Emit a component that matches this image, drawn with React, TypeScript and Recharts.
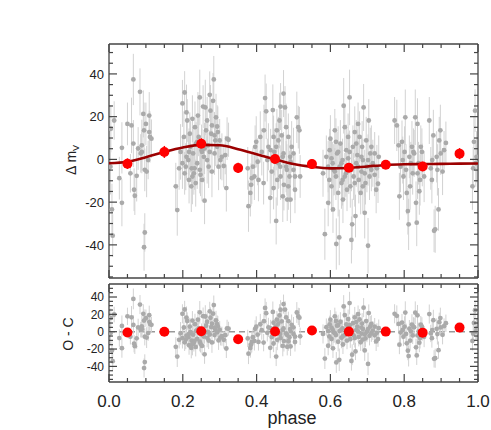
import React from 'react'
import { ComposedChart, Scatter, XAxis, YAxis, ErrorBar, ReferenceLine } from 'recharts'

// observed points: [phase, delta m_V, error]
const OBS: [number, number, number][] = [
  [0.005, 14.3, 11], [0.008, -23.4, 12], [0.01, -35.7, 10], [0.014, 18.2, 9], [0.004, -3.4, 13],
  [0.028, -8.8, 10], [0.035, -20.3, 11], [0.035, 5.4, 12], [0.05, 16.6, 10], [0.058, -6.5, 9],
  [0.061, 15.9, 13], [0.066, 37.4, 12], [0.066, 7.4, 11], [0.068, -14.2, 10], [0.07, -17, 9],
  [0.075, -7.7, 12], [0.079, 5.1, 10], [0.084, 31.6, 11], [0.086, 2.8, 9], [0.089, 6.6, 12],
  [0.089, 3.5, 10], [0.093, 21.3, 11], [0.095, 13.6, 13], [0.097, -4.9, 10], [0.097, -34.2, 9],
  [0.095, -41.1, 11], [0.1, 16.6, 10], [0.102, -5.7, 12], [0.106, -0.3, 9], [0.109, 20.5, 11],
  [0.109, 12.8, 10], [0.111, 10.5, 12], [0.115, 9.7, 9],

  [0.181, -12.6, 11], [0.185, -23.7, 12], [0.19, -4.2, 10], [0.194, 3.5, 13], [0.199, 26.2, 11],
  [0.203, 10.5, 12], [0.205, 31.3, 10], [0.208, -3.4, 11], [0.21, 22, 13], [0.212, 18.2, 10],
  [0.215, -0.3, 12], [0.217, -9.6, 11], [0.219, 12, 10], [0.221, 5.9, 12], [0.224, -4.2, 9],
  [0.226, 19, 11], [0.228, 2.8, 13], [0.23, -6.5, 10], [0.233, 15.1, 12], [0.235, -11.1, 11],
  [0.236, 7.4, 10], [0.239, -1.8, 12], [0.241, 20.5, 11], [0.243, 10.5, 9], [0.246, 29, 13],
  [0.248, -7.2, 10], [0.251, 4.3, 12], [0.252, 3.5, 11], [0.255, 24.7, 10], [0.257, 1.2, 12],
  [0.259, -19.3, 11], [0.261, 24.3, 13], [0.263, 13.6, 10], [0.266, 18.2, 11], [0.268, 6.6, 12],
  [0.27, -3.4, 10], [0.273, 30.2, 11], [0.275, 22.8, 12], [0.277, 12, 10], [0.279, 15.9, 11],
  [0.282, 27.4, 13], [0.284, 37.4, 11], [0.286, 2.8, 10], [0.288, 8.9, 12], [0.29, 19.7, 11],
  [0.293, 15.4, 10], [0.295, 12.8, 12], [0.297, -3.4, 11], [0.3, 8.9, 10], [0.302, -0.3, 9],
  [0.306, 1.2, 11], [0.311, -3.1, 10], [0.315, 2, 9], [0.32, 9.7, 10], [0.324, 9.2, 8],
  [0.318, -13.4, 11], [0.199, -1.8, 12], [0.205, -6.5, 10], [0.217, 3.5, 11], [0.226, -8, 13],
  [0.232, -4.2, 10], [0.239, 8.2, 12], [0.246, -4.9, 11], [0.252, -9.6, 10], [0.259, 5.1, 12],
  [0.266, -0.3, 11], [0.273, 3.5, 10], [0.279, -5.7, 12], [0.286, 11.2, 11], [0.293, 5.9, 10],
  [0.223, -12.6, 12], [0.21, 1.2, 11],

  [0.376, -4.2, 10], [0.378, -21.9, 12], [0.383, -15.7, 11], [0.385, -11.9, 10], [0.387, -8.8, 12],
  [0.39, -3.4, 9], [0.394, -8, 11], [0.396, 5.9, 10], [0.399, 8.2, 12], [0.403, -1.1, 11],
  [0.405, -9.6, 10], [0.41, 10.5, 12], [0.414, 3.5, 11], [0.419, -11.1, 10], [0.42, 13.6, 12],
  [0.423, 28.7, 11], [0.426, 22.5, 13], [0.429, -0.3, 10], [0.432, 5.9, 11], [0.437, -18, 12],
  [0.438, 4.3, 10], [0.441, -5.7, 11], [0.444, 23.1, 12], [0.446, 10.5, 10], [0.448, 3.5, 11],
  [0.45, -1.1, 12], [0.453, -28.8, 11], [0.455, 13.6, 10], [0.456, -9.6, 12], [0.459, 8.9, 11],
  [0.462, 18.2, 13], [0.464, -3.4, 10], [0.465, 24.7, 11], [0.468, 11.2, 12], [0.471, 1.2, 10],
  [0.473, 30.8, 11], [0.474, -11.9, 12], [0.477, 24.3, 10], [0.48, 15.1, 11], [0.482, -4.9, 12],
  [0.483, -18.8, 10], [0.486, 10.5, 11], [0.489, -8, 12], [0.491, 1.2, 10], [0.492, -18.8, 11],
  [0.495, 5.9, 12], [0.5, -4.9, 10], [0.504, -14.2, 11], [0.509, 19.7, 12], [0.513, 15.1, 10],
  [0.516, 13.6, 11], [0.518, -8, 10], [0.459, -1.8, 12], [0.465, -8, 11], [0.473, 2.8, 10],
  [0.48, -3.4, 12], [0.486, -12.6, 11], [0.492, -1.1, 10], [0.5, 2.8, 12], [0.453, 5.9, 11],
  [0.446, -13.4, 10], [0.471, -17.3, 12], [0.504, -8, 11],

  [0.58, -6.5, 11], [0.585, -35, 12], [0.589, 1.2, 10], [0.594, -20.3, 11], [0.597, -9.6, 12],
  [0.598, 4.3, 10], [0.6, 9.7, 11], [0.603, -12.6, 12], [0.606, -1.8, 10], [0.607, -23.4, 11],
  [0.609, -4.9, 12], [0.612, 13.6, 10], [0.615, -8, 11], [0.616, -39.6, 12], [0.618, 2.8, 10],
  [0.621, -15.7, 11], [0.624, -36.5, 13], [0.625, -3.4, 10], [0.627, 7.4, 11], [0.63, -11.1, 12],
  [0.633, -0.3, 10], [0.634, -18.8, 11], [0.636, 25.1, 13], [0.639, 15.1, 10], [0.642, -6.5, 11],
  [0.643, 4.3, 12], [0.645, -14.2, 10], [0.648, 10.5, 11], [0.65, -4.2, 12], [0.652, 29, 13],
  [0.654, -12.6, 10], [0.657, -37.7, 11], [0.659, -30.4, 12], [0.661, 5.9, 10], [0.663, -8, 11],
  [0.666, 12.8, 12], [0.668, -26.5, 10], [0.67, -1.8, 11], [0.673, 2, 12], [0.675, 16.6, 10],
  [0.677, -9.6, 11], [0.679, 10.5, 12], [0.682, -15.7, 10], [0.684, -5.7, 11], [0.686, 5.9, 12],
  [0.688, -0.3, 10], [0.69, 24.3, 11], [0.693, -25, 12], [0.695, -11.1, 10], [0.697, 8.9, 11],
  [0.699, -3.4, 12], [0.702, -40.4, 13], [0.704, 18.2, 10], [0.706, -8, 11], [0.708, 2.8, 12],
  [0.711, -4.9, 10], [0.715, -1.8, 11], [0.72, 2.8, 10], [0.724, -14.2, 11], [0.729, -11.4, 9],
  [0.731, 1.2, 10], [0.726, -4.2, 11], [0.594, -3.4, 12], [0.603, 0.5, 10], [0.612, -5.7, 11],
  [0.621, 3.5, 12], [0.63, -1.8, 10], [0.639, -8, 11], [0.648, 0.5, 12], [0.657, -4.9, 10],
  [0.666, -11.1, 11], [0.675, -3.4, 12], [0.684, 1.2, 10], [0.693, -6.5, 11], [0.702, -0.3, 12],
  [0.711, 5.9, 10], [0.615, 8.2, 11], [0.633, -9.6, 12], [0.652, 3.5, 10], [0.67, 7.4, 11],
  [0.688, -12.6, 12], [0.72, -7.2, 10],

  [0.774, 18.2, 11], [0.78, 15.9, 12], [0.785, 6.6, 10], [0.787, -17.3, 11], [0.79, -3.4, 12],
  [0.794, 8.2, 10], [0.798, -8, 11], [0.801, 3.5, 12], [0.803, 19.7, 13], [0.807, -15.7, 10],
  [0.81, -24.2, 11], [0.812, -30.4, 12], [0.814, 1.2, 10], [0.816, -12.6, 11], [0.821, 5.9, 12],
  [0.823, -6.5, 10], [0.827, 2.8, 11], [0.83, 19.7, 13], [0.832, -20.3, 10], [0.834, -29.6, 11],
  [0.836, 16.6, 12], [0.839, -1.8, 10], [0.841, -14.9, 11], [0.843, -9.6, 12], [0.845, 5.9, 10],
  [0.848, 3.5, 11], [0.854, -8, 12], [0.868, 18.2, 11], [0.872, -4.2, 10], [0.875, -9.6, 11],
  [0.879, 11.2, 12], [0.881, -33.4, 10], [0.884, -32.7, 11], [0.888, 1.2, 12], [0.893, -23.4, 10],
  [0.895, 8.9, 11], [0.898, 13.6, 12], [0.899, 2.8, 10], [0.904, -5.7, 11], [0.908, 4.3, 9],
  [0.913, 7.7, 10], [0.796, -0.3, 11], [0.805, -4.9, 12], [0.818, -1.8, 10], [0.825, 3.5, 11],
  [0.836, -6.5, 12], [0.849, -2.6, 10], [0.876, -0.3, 11], [0.89, -4.9, 12],

  [0.985, -12.6, 11], [0.989, 8.2, 12], [0.992, 22.8, 10], [0.994, -1.8, 11], [0.996, 1.2, 12],
  [0.987, -4.2, 10],
]

// binned means
const BIN_PHASE = [0.05, 0.15, 0.25, 0.35, 0.45, 0.55, 0.65, 0.75, 0.85, 0.95]
const BIN_DM = [-2, 3.5, 7.3, -4, 0.2, -2.2, -3.9, -2.5, -3.3, 2.7]
const BIN_ERR = [2.5, 2.8, 2.6, 2.4, 2.2, 2.3, 2.0, 2.0, 2.2, 2.6]

// fitted curve
const MODEL_PHASE = [0, 0.05, 0.1, 0.15, 0.2, 0.25, 0.3, 0.35, 0.4, 0.45, 0.5, 0.55, 0.6, 0.65, 0.7, 0.75, 0.8, 0.85, 0.9, 0.95, 1]
const MODEL_DM = [-1.8, -1.1, 1.0, 3.5, 5.6, 6.8, 6.6, 4.8, 2.4, 0.0, -2.2, -3.5, -4.2, -4.0, -3.3, -2.6, -2.3, -2.2, -2.1, -2.0, -1.9]

// ticks
const X_TICKS = [0, 0.05, 0.1, 0.15, 0.2, 0.25, 0.3, 0.35, 0.4, 0.45, 0.5, 0.55, 0.6, 0.65, 0.7, 0.75, 0.8, 0.85, 0.9, 0.95, 1]
const Y_TICKS = [-55, -50, -45, -40, -35, -30, -25, -20, -15, -10, -5, 0, 5, 10, 15, 20, 25, 30, 35, 40, 45, 50]
const TOP_DOMAIN = [-55.5, 54]
const OC_DOMAIN = [-58, 55]

const AXIS = '#444'
const FONT = '"Liberation Sans", Arial, Helvetica, sans-serif'

function modelAt(p: number) {
  for (let i = 0; i < MODEL_PHASE.length - 1; i++) {
    const a = MODEL_PHASE[i], b = MODEL_PHASE[i + 1]
    if (p >= a && p <= b) {
      const t = (p - a) / (b - a)
      return MODEL_DM[i] + t * (MODEL_DM[i + 1] - MODEL_DM[i])
    }
  }
  return MODEL_DM[MODEL_DM.length - 1]
}

const obsData = OBS.map(([x, y, err]) => ({ x, y, err }))
const ocData = OBS.map(([x, y, err]) => ({ x, y: y - modelAt(x), err }))
const binData = BIN_PHASE.map((x, i) => ({ x, y: BIN_DM[i], err: BIN_ERR[i] }))
const binOcData = BIN_PHASE.map((x, i) => ({ x, y: BIN_DM[i] - modelAt(x), err: BIN_ERR[i] }))
const modelData = MODEL_PHASE.map((x, i) => ({ x, y: MODEL_DM[i] }))

const isMajorX = (v: number) => Math.abs(v * 5 - Math.round(v * 5)) < 1e-6
const isMajorY = (v: number) => v % 20 === 0

function makeTick(side: string, major: (v: number) => boolean, showLabel: boolean, fontSize: number) {
  return (props: any) => {
    const { x, y, payload } = props
    const v = payload.value
    const big = major(v)
    const len = big ? 8 : 4
    let x2 = x
    let y2 = y
    if (side === 'left') x2 = x + len
    else if (side === 'right') x2 = x - len
    else if (side === 'top') y2 = y + len
    else y2 = y - len
    let label = null
    if (showLabel && big) {
      if (side === 'left') {
        label = (
          <text x={x - 5} y={y} dy="0.36em" textAnchor="end" fontSize={fontSize} fill="#222" fontFamily={FONT}>
            {String(v)}
          </text>
        )
      } else {
        label = (
          <text x={x} y={y + 25} textAnchor="middle" fontSize={fontSize} fill="#222" fontFamily={FONT}>
            {v.toFixed(1)}
          </text>
        )
      }
    }
    return (
      <g>
        <line x1={x} y1={y} x2={x2} y2={y2} stroke={AXIS} strokeWidth={1.2} />
        {label}
      </g>
    )
  }
}

const grayDot = (props: any) => <circle cx={props.cx} cy={props.cy} r={2.4} fill="#aaaaaa" />
const redDot = (props: any) => <circle cx={props.cx} cy={props.cy} r={5} fill="#ff0000" />
const noDot = () => <g />
const axisLine = { stroke: AXIS, strokeWidth: 1.3 }

export default function App() {
  return (
    <div style={{ position: 'absolute', left: 0, top: 0, width: 491, height: 430, background: '#fff' }}>
      <div style={{ position: 'absolute', left: 0, top: 0 }}>
        <ComposedChart width={491} height={290} margin={{ top: 43, right: 12, bottom: 11, left: 108 }}>
          <XAxis xAxisId="b" dataKey="x" type="number" domain={[0, 1]} ticks={X_TICKS} interval={0} allowDataOverflow
            height={1} tickSize={0} tickMargin={0} axisLine={axisLine} tickLine={false}
            tick={makeTick('bottom', isMajorX, false, 17)} />
          <XAxis xAxisId="t" orientation="top" dataKey="x" type="number" domain={[0, 1]} ticks={X_TICKS} interval={0} allowDataOverflow
            height={1} tickSize={0} tickMargin={0} axisLine={axisLine} tickLine={false}
            tick={makeTick('top', isMajorX, false, 17)} />
          <YAxis yAxisId="l" dataKey="y" type="number" domain={TOP_DOMAIN} ticks={Y_TICKS} interval={0} allowDataOverflow
            width={1} tickSize={0} tickMargin={0} axisLine={axisLine} tickLine={false}
            tick={makeTick('left', isMajorY, true, 13)} />
          <YAxis yAxisId="r" orientation="right" dataKey="y" type="number" domain={TOP_DOMAIN} ticks={Y_TICKS} interval={0} allowDataOverflow
            width={1} tickSize={0} tickMargin={0} axisLine={axisLine} tickLine={false}
            tick={makeTick('right', isMajorY, false, 13)} />
          <Scatter xAxisId="b" yAxisId="l" data={obsData} shape={grayDot} isAnimationActive={false}>
            <ErrorBar dataKey="err" direction="y" width={0} stroke="#d2d2d2" strokeWidth={1} />
          </Scatter>
          <Scatter xAxisId="b" yAxisId="l" data={modelData} shape={noDot} line={{ stroke: '#9b0000', strokeWidth: 2.6 }} lineJointType="monotoneX" isAnimationActive={false} />
          <Scatter xAxisId="b" yAxisId="l" data={binData} shape={redDot} isAnimationActive={false}>
            <ErrorBar dataKey="err" direction="y" width={0} stroke="#ff0000" strokeWidth={1.5} />
          </Scatter>
        </ComposedChart>
      </div>
      <div style={{ position: 'absolute', left: 0, top: 280 }}>
        <ComposedChart width={491} height={150} margin={{ top: 3, right: 12, bottom: 47, left: 108 }}>
          <XAxis xAxisId="b" dataKey="x" type="number" domain={[0, 1]} ticks={X_TICKS} interval={0} allowDataOverflow
            height={1} tickSize={0} tickMargin={0} axisLine={axisLine} tickLine={false}
            tick={makeTick('bottom', isMajorX, true, 17)} />
          <XAxis xAxisId="t" orientation="top" dataKey="x" type="number" domain={[0, 1]} ticks={X_TICKS} interval={0} allowDataOverflow
            height={1} tickSize={0} tickMargin={0} axisLine={axisLine} tickLine={false}
            tick={makeTick('top', isMajorX, false, 17)} />
          <YAxis yAxisId="l" dataKey="y" type="number" domain={OC_DOMAIN} ticks={Y_TICKS} interval={0} allowDataOverflow
            width={1} tickSize={0} tickMargin={0} axisLine={axisLine} tickLine={false}
            tick={makeTick('left', isMajorY, true, 12)} />
          <YAxis yAxisId="r" orientation="right" dataKey="y" type="number" domain={OC_DOMAIN} ticks={Y_TICKS} interval={0} allowDataOverflow
            width={1} tickSize={0} tickMargin={0} axisLine={axisLine} tickLine={false}
            tick={makeTick('right', isMajorY, false, 12)} />
          <ReferenceLine xAxisId="b" yAxisId="l" y={0} stroke="#999" strokeWidth={1.5} strokeDasharray="6 4" />
          <Scatter xAxisId="b" yAxisId="l" data={ocData} shape={grayDot} isAnimationActive={false}>
            <ErrorBar dataKey="err" direction="y" width={0} stroke="#d2d2d2" strokeWidth={1} />
          </Scatter>
          <Scatter xAxisId="b" yAxisId="l" data={binOcData} shape={redDot} isAnimationActive={false} />
        </ComposedChart>
      </div>
      <svg width={491} height={430} style={{ position: 'absolute', left: 0, top: 0, pointerEvents: 'none' }}>
        <text transform="rotate(-90 76 160)" x={76} y={160} textAnchor="middle" fontSize={14} fill="#222" fontFamily={FONT}>
          Δ m<tspan fontSize={9} dy={3}>V</tspan>
        </text>
        <text transform="rotate(-90 73 334)" x={73} y={334} textAnchor="middle" fontSize={14} fill="#222" fontFamily={FONT}>
          O - C
        </text>
        <text x={292} y={424} textAnchor="middle" fontSize={18} fill="#222" fontFamily={FONT}>
          phase
        </text>
      </svg>
    </div>
  )
}
